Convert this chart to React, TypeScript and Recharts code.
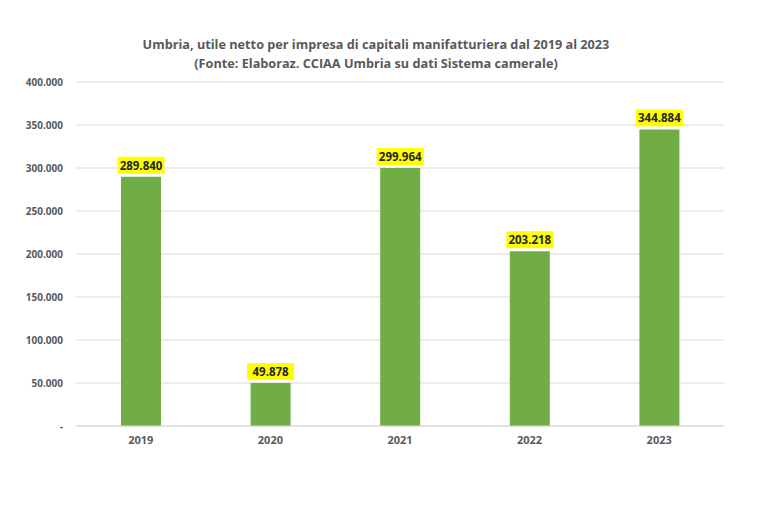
import { BarChart, Bar, XAxis, YAxis, CartesianGrid, LabelList } from 'recharts'

const years = ['2019', '2020', '2021', '2022', '2023']
const utile = [289840, 49878, 299964, 203218, 344884]
const yTicks = [0, 50000, 100000, 150000, 200000, 250000, 300000, 350000, 400000]

const data = years.map((year, i) => ({ year, utile: utile[i] }))

const FONT = '"Open Sans", "Liberation Sans", sans-serif'
const GREY = '#595959'

const fmt = (v: number) =>
  v === 0 ? '-' : String(v).replace(/\B(?=(\d{3})+(?!\d))/g, '.')

function YellowLabel(props: any) {
  const { x, y, width, value } = props
  const cx = x + width / 2
  const text = fmt(value)
  const w = 47
  const h = 17
  return (
    <g>
      <rect x={cx - w / 2} y={y - h - 3} width={w} height={h} fill="#ffff00" />
      <text
        x={cx}
        y={y - 7}
        textAnchor="middle"
        fontFamily={FONT}
        fontSize={11.5}
        fontWeight={700}
        fill="#262626"
      >
        {text}
      </text>
    </g>
  )
}

export default function App() {
  return (
    <div style={{ position: 'absolute', left: 0, top: 0, width: 774, height: 516, background: '#fff' }}>
      <div
        style={{
          position: 'absolute',
          top: 35,
          left: 0,
          width: 752,
          textAlign: 'center',
          fontFamily: FONT,
          fontWeight: 700,
          fontSize: 12.7,
          lineHeight: '19px',
          color: GREY,
        }}
      >
        Umbria, utile netto per impresa di capitali manifatturiera dal 2019 al 2023
        <br />
        (Fonte: Elaboraz. CCIAA Umbria su dati Sistema camerale)
      </div>
      <BarChart
        width={774}
        height={516}
        data={data}
        margin={{ top: 82, right: 50, bottom: 60, left: 0 }}
      >
        <CartesianGrid vertical={false} stroke="#d9d9d9" />
        <XAxis
          dataKey="year"
          axisLine={{ stroke: '#d9d9d9' }}
          tickLine={false}
          tickMargin={4}
          tick={{ fill: GREY, fontSize: 11, fontWeight: 700, fontFamily: FONT }}
        />
        <YAxis
          width={76}
          domain={[0, 400000]}
          ticks={yTicks}
          interval={0}
          axisLine={false}
          tickLine={false}
          tickMargin={7}
          tickFormatter={fmt}
          tick={{ fill: GREY, fontSize: 10, fontWeight: 700, fontFamily: FONT }}
        />
        <Bar dataKey="utile" fill="#70ad47" barSize={40} isAnimationActive={false}>
          <LabelList dataKey="utile" content={YellowLabel} />
        </Bar>
      </BarChart>
    </div>
  )
}
